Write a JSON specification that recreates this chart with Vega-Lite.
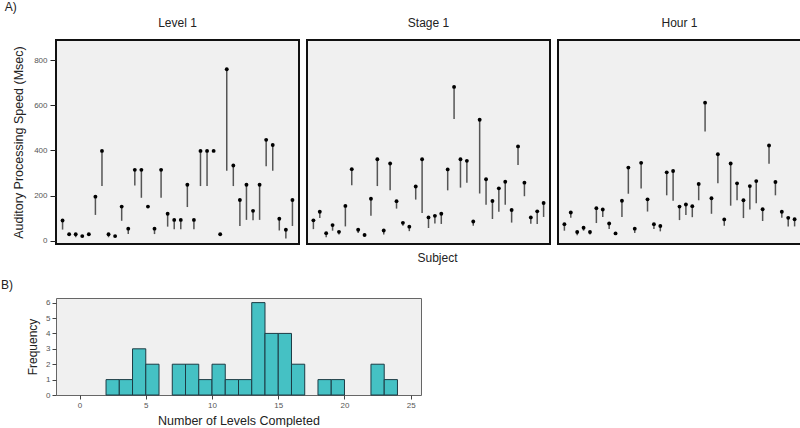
{
  "$schema": "https://vega.github.io/schema/vega-lite/v6.json",
  "padding": {"left": 0, "top": 1, "right": 0, "bottom": 0},
  "autosize": {"type": "pad"},
  "background": "white",
  "config": {
    "font": "Liberation Sans",
    "title": {"fontWeight": "normal", "color": "#222"}
  },
  "datasets": {
    "level": [
      {"s": 1, "lo": 49, "hi": 89}, {"s": 2, "lo": 24, "hi": 28}, {"s": 3, "lo": 15, "hi": 28},
      {"s": 4, "lo": 17, "hi": 20}, {"s": 5, "lo": 24, "hi": 28}, {"s": 6, "lo": 114, "hi": 195},
      {"s": 7, "lo": 242, "hi": 398}, {"s": 8, "lo": 15, "hi": 28}, {"s": 9, "lo": 17, "hi": 20},
      {"s": 10, "lo": 88, "hi": 151}, {"s": 11, "lo": 29, "hi": 53}, {"s": 12, "lo": 245, "hi": 314},
      {"s": 13, "lo": 190, "hi": 314}, {"s": 14, "lo": 148, "hi": 151}, {"s": 15, "lo": 29, "hi": 53},
      {"s": 16, "lo": 190, "hi": 314}, {"s": 17, "lo": 62, "hi": 119}, {"s": 18, "lo": 50, "hi": 92},
      {"s": 19, "lo": 50, "hi": 92}, {"s": 20, "lo": 149, "hi": 248}, {"s": 21, "lo": 50, "hi": 92},
      {"s": 22, "lo": 242, "hi": 398}, {"s": 23, "lo": 242, "hi": 398}, {"s": 24, "lo": 395, "hi": 398},
      {"s": 25, "lo": 25, "hi": 28}, {"s": 26, "lo": 310, "hi": 760}, {"s": 27, "lo": 242, "hi": 333},
      {"s": 28, "lo": 65, "hi": 180}, {"s": 29, "lo": 92, "hi": 248}, {"s": 30, "lo": 90, "hi": 132},
      {"s": 31, "lo": 92, "hi": 248}, {"s": 32, "lo": 330, "hi": 447}, {"s": 33, "lo": 310, "hi": 424},
      {"s": 34, "lo": 45, "hi": 97}, {"s": 35, "lo": 9, "hi": 48}, {"s": 36, "lo": 65, "hi": 180}
    ],
    "stage": [
      {"s": 1, "lo": 51, "hi": 90}, {"s": 2, "lo": 100, "hi": 128}, {"s": 3, "lo": 15, "hi": 33},
      {"s": 4, "lo": 44, "hi": 69}, {"s": 5, "lo": 27, "hi": 39}, {"s": 6, "lo": 63, "hi": 154},
      {"s": 7, "lo": 246, "hi": 317}, {"s": 8, "lo": 34, "hi": 48}, {"s": 9, "lo": 22, "hi": 25},
      {"s": 10, "lo": 110, "hi": 186}, {"s": 11, "lo": 242, "hi": 361}, {"s": 12, "lo": 27, "hi": 45},
      {"s": 13, "lo": 224, "hi": 342}, {"s": 14, "lo": 142, "hi": 175}, {"s": 15, "lo": 66, "hi": 79},
      {"s": 16, "lo": 42, "hi": 62}, {"s": 17, "lo": 182, "hi": 240}, {"s": 18, "lo": 122, "hi": 361},
      {"s": 19, "lo": 56, "hi": 103}, {"s": 20, "lo": 76, "hi": 110}, {"s": 21, "lo": 74, "hi": 119},
      {"s": 22, "lo": 223, "hi": 316}, {"s": 23, "lo": 540, "hi": 682}, {"s": 24, "lo": 235, "hi": 361},
      {"s": 25, "lo": 257, "hi": 354}, {"s": 26, "lo": 66, "hi": 85}, {"s": 27, "lo": 209, "hi": 536},
      {"s": 28, "lo": 159, "hi": 272}, {"s": 29, "lo": 96, "hi": 176}, {"s": 30, "lo": 128, "hi": 232},
      {"s": 31, "lo": 159, "hi": 261}, {"s": 32, "lo": 80, "hi": 136}, {"s": 33, "lo": 335, "hi": 418},
      {"s": 34, "lo": 197, "hi": 257}, {"s": 35, "lo": 75, "hi": 103}, {"s": 36, "lo": 74, "hi": 130},
      {"s": 37, "lo": 105, "hi": 167}
    ],
    "hour": [
      {"s": 1, "lo": 44, "hi": 73}, {"s": 2, "lo": 101, "hi": 125}, {"s": 3, "lo": 24, "hi": 38},
      {"s": 4, "lo": 44, "hi": 57}, {"s": 5, "lo": 27, "hi": 38}, {"s": 6, "lo": 78, "hi": 144},
      {"s": 7, "lo": 105, "hi": 138}, {"s": 8, "lo": 51, "hi": 76}, {"s": 9, "lo": 29, "hi": 32},
      {"s": 10, "lo": 105, "hi": 177}, {"s": 11, "lo": 208, "hi": 324}, {"s": 12, "lo": 34, "hi": 53},
      {"s": 13, "lo": 231, "hi": 345}, {"s": 14, "lo": 129, "hi": 183}, {"s": 15, "lo": 51, "hi": 73},
      {"s": 16, "lo": 41, "hi": 65}, {"s": 17, "lo": 201, "hi": 303}, {"s": 18, "lo": 177, "hi": 309},
      {"s": 19, "lo": 91, "hi": 151}, {"s": 20, "lo": 114, "hi": 160}, {"s": 21, "lo": 104, "hi": 153},
      {"s": 22, "lo": 179, "hi": 251}, {"s": 23, "lo": 484, "hi": 612}, {"s": 24, "lo": 119, "hi": 188},
      {"s": 25, "lo": 255, "hi": 383}, {"s": 26, "lo": 66, "hi": 94}, {"s": 27, "lo": 155, "hi": 342},
      {"s": 28, "lo": 179, "hi": 254}, {"s": 29, "lo": 100, "hi": 179}, {"s": 30, "lo": 138, "hi": 242},
      {"s": 31, "lo": 166, "hi": 264}, {"s": 32, "lo": 87, "hi": 139}, {"s": 33, "lo": 341, "hi": 422},
      {"s": 34, "lo": 201, "hi": 260}, {"s": 35, "lo": 101, "hi": 128}, {"s": 36, "lo": 63, "hi": 101},
      {"s": 37, "lo": 63, "hi": 95}
    ],
    "hist": [
      {"start": 2, "end": 3, "count": 1}, {"start": 3, "end": 4, "count": 1}, {"start": 4, "end": 5, "count": 3},
      {"start": 5, "end": 6, "count": 2}, {"start": 7, "end": 8, "count": 2}, {"start": 8, "end": 9, "count": 2},
      {"start": 9, "end": 10, "count": 1}, {"start": 10, "end": 11, "count": 2}, {"start": 11, "end": 12, "count": 1},
      {"start": 12, "end": 13, "count": 1}, {"start": 13, "end": 14, "count": 6}, {"start": 14, "end": 15, "count": 4},
      {"start": 15, "end": 16, "count": 4}, {"start": 16, "end": 17, "count": 2}, {"start": 18, "end": 19, "count": 1},
      {"start": 19, "end": 20, "count": 1}, {"start": 22, "end": 23, "count": 2}, {"start": 23, "end": 24, "count": 1}
    ]
  },
  "spacing": 14,
  "vconcat": [
    {
      "title": {"text": "A)", "anchor": "start", "frame": "bounds", "fontSize": 12, "offset": 2, "dx": -7},
      "spacing": 6,
      "resolve": {"scale": {"x": "independent", "y": "independent"}},
      "hconcat": [
        {
          "width": 243, "height": 204,
          "title": {"text": "Level 1", "fontSize": 12, "offset": 10},
          "view": {"fill": "#f0f0f0", "stroke": "#111", "strokeWidth": 2},
          "data": {"name": "level"},
          "encoding": {
            "x": {"field": "s", "type": "ordinal", "scale": {"type": "point", "padding": 2.3}, "axis": null}
          },
          "layer": [
            {
              "mark": {"type": "rule", "color": "#555", "strokeWidth": 1.5},
              "encoding": {
                "y": {"field": "lo", "type": "quantitative", "scale": {"domain": [-15, 890], "nice": false, "zero": false},
                  "axis": {"title": "Auditory Processing Speed (Msec)", "values": [0, 200, 400, 600, 800], "domain": false, "grid": false,
                    "tickColor": "#222", "tickSize": 6, "labelFontSize": 8, "labelColor": "#555", "labelPadding": 3,
                    "titleFontSize": 12.5, "titleFontWeight": "normal", "titleColor": "#222", "titlePadding": 8}},
                "y2": {"field": "hi"}
              }
            },
            {
              "mark": {"type": "point", "filled": true, "color": "#000", "size": 15, "opacity": 1},
              "encoding": {"y": {"field": "hi", "type": "quantitative"}}
            }
          ]
        },
        {
          "width": 243, "height": 204,
          "title": {"text": "Stage 1", "fontSize": 12, "offset": 10},
          "view": {"fill": "#f0f0f0", "stroke": "#111", "strokeWidth": 2},
          "data": {"name": "stage"},
          "encoding": {
            "x": {"field": "s", "type": "ordinal", "scale": {"type": "point", "padding": 2.3},
              "axis": {"labels": false, "ticks": false, "domain": false, "title": "Subject", "titleFontSize": 12, "titleFontWeight": "normal", "titleColor": "#222", "titlePadding": 8, "titleX": 130}}
          },
          "layer": [
            {
              "mark": {"type": "rule", "color": "#555", "strokeWidth": 1.5},
              "encoding": {
                "y": {"field": "lo", "type": "quantitative", "scale": {"domain": [-15, 890], "nice": false, "zero": false}, "axis": null},
                "y2": {"field": "hi"}
              }
            },
            {
              "mark": {"type": "point", "filled": true, "color": "#000", "size": 15, "opacity": 1},
              "encoding": {"y": {"field": "hi", "type": "quantitative"}}
            }
          ]
        },
        {
          "width": 243, "height": 204,
          "title": {"text": "Hour 1", "fontSize": 12, "offset": 10},
          "view": {"fill": "#f0f0f0", "stroke": "#111", "strokeWidth": 2},
          "data": {"name": "hour"},
          "encoding": {
            "x": {"field": "s", "type": "ordinal", "scale": {"type": "point", "padding": 2.3}, "axis": null}
          },
          "layer": [
            {
              "mark": {"type": "rule", "color": "#555", "strokeWidth": 1.5},
              "encoding": {
                "y": {"field": "lo", "type": "quantitative", "scale": {"domain": [-15, 890], "nice": false, "zero": false}, "axis": null},
                "y2": {"field": "hi"}
              }
            },
            {
              "mark": {"type": "point", "filled": true, "color": "#000", "size": 15, "opacity": 1},
              "encoding": {"y": {"field": "hi", "type": "quantitative"}}
            }
          ]
        }
      ]
    },
    {
      "title": {"text": "B)", "anchor": "start", "frame": "group", "fontSize": 12, "offset": 6, "dx": -55},
      "width": 365, "height": 97,
      "view": {"fill": "#f0f0f0", "stroke": "#666", "strokeWidth": 1},
      "data": {"name": "hist"},
      "mark": {"type": "bar", "orient": "vertical", "fill": "#45C1C4", "stroke": "#1d3b44", "strokeWidth": 1},
      "encoding": {
        "x": {"field": "start", "type": "quantitative", "scale": {"domain": [-1.4, 25.4], "nice": false, "zero": false},
          "axis": {"values": [0, 5, 10, 15, 20, 25], "title": "Number of Levels Completed", "domain": false, "grid": false,
            "tickColor": "#444", "tickSize": 4, "labelFontSize": 8, "labelColor": "#555", "labelPadding": 2,
            "titleFontSize": 12.5, "titleFontWeight": "normal", "titleColor": "#222", "titlePadding": 5}},
        "x2": {"field": "end"},
        "y": {"field": "count", "type": "quantitative", "scale": {"domain": [0, 6.3], "nice": false},
          "axis": {"values": [0, 1, 2, 3, 4, 5, 6], "title": "Frequency", "domain": false, "grid": false,
            "tickColor": "#444", "tickSize": 4, "labelFontSize": 8, "labelColor": "#555", "labelPadding": 2,
            "titleFontSize": 12, "titleFontWeight": "normal", "titleColor": "#222", "titlePadding": 6}},
        "y2": {"datum": 0}
      }
    }
  ]
}
